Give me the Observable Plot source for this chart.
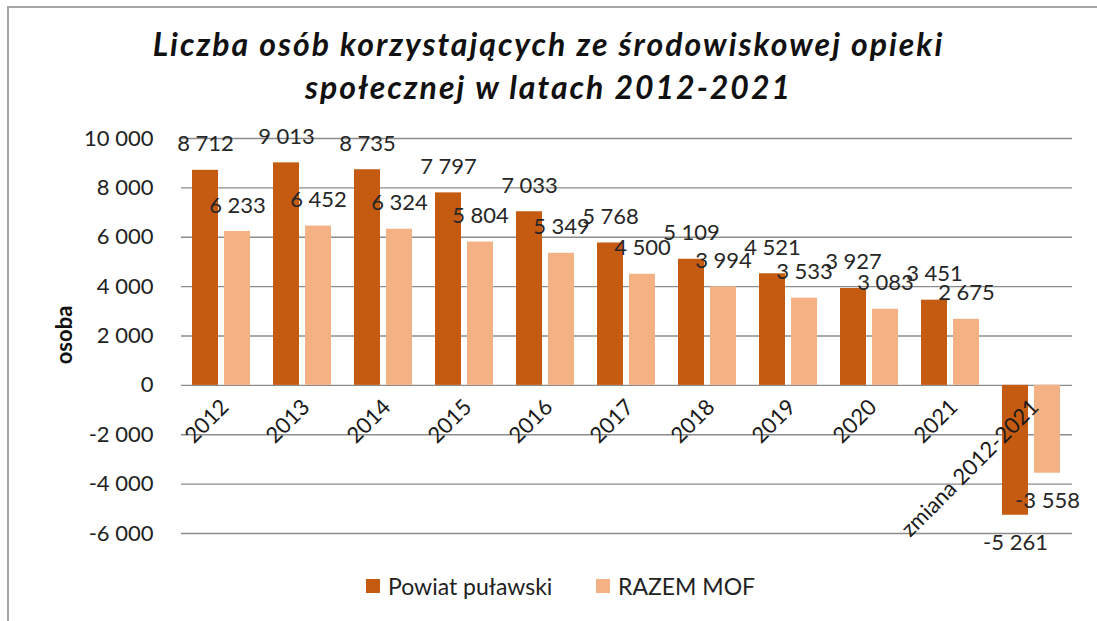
<!DOCTYPE html>
<html>
<head>
<meta charset="utf-8">
<script src="https://cdn.jsdelivr.net/npm/d3@7"></script>
<script src="https://cdn.jsdelivr.net/npm/@observablehq/plot@0.6"></script>
<style>
  html, body { margin: 0; padding: 0; background: #fff; }
  #wrap { position: relative; width: 1097px; height: 621px; overflow: hidden; font-family: Lato, sans-serif; }
  #frame { position: absolute; left: 7px; top: 6px; width: 1100px; height: 700px; border-top: 2px solid #a6a6a6; border-left: 2px solid #a6a6a6; box-sizing: border-box; }
  #title { position: absolute; left: 0; top: 22px; width: 1097px; text-align: center; font-family: Lato, sans-serif; font-weight: bold; font-style: italic; font-size: 32px; letter-spacing: 2px; line-height: 43px; color: #111; }
  #chart { position: absolute; left: 0; top: 110px; }
  #ylabel { position: absolute; left: 63px; top: 335px; transform: translate(-50%, -50%) rotate(-90deg); font-weight: bold; font-size: 22px; color: #111; white-space: nowrap; }
  #legend { position: absolute; top: 572px; left: 0; width: 1097px; height: 30px; font-size: 23px; color: #222; }
  #legend .sw { width: 14px; height: 14px; display: inline-block; margin-right: 8px; }
  #legend .item { position: absolute; top: 0; display: flex; align-items: center; white-space: nowrap; }
</style>
</head>
<body>
<div id="wrap">
  <div id="frame"></div>
  <div id="title">Liczba osób korzystających ze środowiskowej opieki<br>społecznej w latach 2012-2021</div>
  <div id="chart"></div>
  <div id="ylabel">osoba</div>
  <div id="legend"></div>
</div>
<script>
const categories = ["2012", "2013", "2014", "2015", "2016", "2017", "2018", "2019", "2020", "2021", "zmiana 2012-2021"];
const seriesNames = ["Powiat puławski", "RAZEM MOF"];
const powiat = [8712, 9013, 8735, 7797, 7033, 5768, 5109, 4521, 3927, 3451, -5261];
const razemMOF = [6233, 6452, 6324, 5804, 5349, 4500, 3994, 3533, 3083, 2675, -3558];
const colors = ["#C55A11", "#F4B183"];
const yTicks = [-6000, -4000, -2000, 0, 2000, 4000, 6000, 8000, 10000];

const fmt = d3.formatLocale({decimal: ",", thousands: " ", grouping: [3], currency: ["", ""], minus: "-"}).format(",");

const data = [];
categories.forEach((c, i) => {
  data.push({cat: c, series: seriesNames[0], value: powiat[i]});
  data.push({cat: c, series: seriesNames[1], value: razemMOF[i]});
});

const H = 450;
const plot = Plot.plot({
  width: 1097,
  height: H,
  marginLeft: 178,
  marginRight: 23,
  marginTop: 28,
  marginBottom: H - (533 - 110),
  style: { fontFamily: "Lato, sans-serif", fontSize: "22px", color: "#222", background: "transparent" },
  fx: { domain: categories, padding: 0, axis: null },
  x: { domain: seriesNames, paddingInner: 0.18, paddingOuter: 0.33, axis: null },
  y: { domain: [-6000, 10000], ticks: yTicks, tickFormat: fmt, tickSize: 0, tickPadding: 28, label: null },
  color: { domain: seriesNames, range: colors },
  marks: [
    Plot.ruleY(yTicks, { stroke: "#8c8c8c", strokeWidth: 1.3 }),
    Plot.barY(data, { fx: "cat", x: "series", y: "value", fill: "series" }),
    Plot.text(data.filter(d => d.value >= 0), { fx: "cat", x: "series", y: "value", text: d => fmt(d.value), dy: -26, fill: "#262626", fontSize: 22 }),
    Plot.text(data.filter(d => d.value < 0), { fx: "cat", x: "series", y: "value", text: d => fmt(d.value), dy: 28, fill: "#262626", fontSize: 22 }),
    Plot.text(categories, { fx: d => d, y: d => 0, text: d => d, rotate: -45, textAnchor: "end", dx: 3, dy: 18, fill: "#1a1a1a", fontSize: 22 })
  ]
});
document.getElementById("chart").appendChild(plot);

const legend = document.getElementById("legend");
const legendLeft = [366, 596];
seriesNames.forEach((s, i) => {
  const item = document.createElement("div");
  item.className = "item";
  item.style.left = legendLeft[i] + "px";
  const sw = document.createElement("span");
  sw.className = "sw";
  sw.style.background = colors[i];
  const lab = document.createElement("span");
  lab.textContent = s;
  item.appendChild(sw);
  item.appendChild(lab);
  legend.appendChild(item);
});
</script>
</body>
</html>
